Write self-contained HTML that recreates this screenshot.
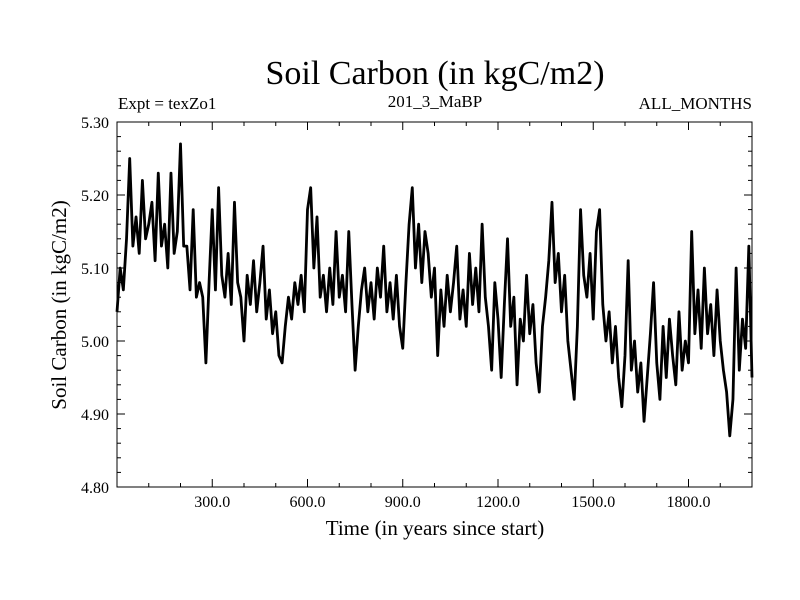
<!DOCTYPE html>
<html><head><meta charset="utf-8"><style>
body{margin:0;background:#fff}
svg{display:block;font-family:"Liberation Serif",serif}
</style></head><body>
<svg id="chart" width="800" height="600" viewBox="0 0 800 600">
<rect width="800" height="600" fill="#fff"/>
<text x="435" y="84" font-size="34" text-anchor="middle">Soil Carbon (in kgC/m2)</text>
<text x="118" y="109" font-size="17">Expt = texZo1</text>
<text x="435" y="107" font-size="17" text-anchor="middle">201_3_MaBP</text>
<text x="752" y="109" font-size="17" text-anchor="end">ALL_MONTHS</text>
<text x="435" y="535" font-size="21" text-anchor="middle">Time (in years since start)</text>
<text transform="translate(66,305) rotate(-90)" font-size="21" text-anchor="middle">Soil Carbon (in kgC/m2)</text>
<g id="axes"></g>
<path id="series" fill="none" stroke="#000" stroke-width="2.8" stroke-linejoin="round"/>
<rect x="117" y="122" width="635" height="365" fill="none" stroke="#000" stroke-width="1"/>
</svg>
<script>
const years = [];
for (let i = 0; i <= 200; i++) years.push(i * 10);
const carbon = [5.04,5.10,5.07,5.14,5.25,5.13,5.17,5.12,5.22,5.14,5.16,5.19,5.11,5.23,5.13,5.16,5.10,5.23,5.12,5.15,5.27,5.13,5.13,5.07,5.18,5.06,5.08,
5.06,4.97,5.08,5.18,5.07,5.21,5.09,5.06,5.12,5.05,5.19,5.08,5.06,5.00,5.09,
5.05,5.11,5.04,5.08,5.13,5.03,5.07,5.01,5.04,4.98,4.97,
5.02,5.06,5.03,5.08,5.05,5.09,5.04,5.18,
5.21,5.10,5.17,5.06,5.09,5.04,5.10,5.05,5.15,5.06,5.09,5.04,5.15,5.05,4.96,5.02,
5.07,5.10,5.04,5.08,5.03,5.10,5.06,5.13,5.04,5.08,5.03,5.09,5.02,
4.99,5.08,5.16,5.21,5.10,5.16,5.08,5.15,5.12,5.06,
5.10,4.98,5.07,5.02,5.09,5.04,5.08,5.13,5.03,5.07,5.02,5.12,5.05,5.10,5.04,5.16,5.06,
5.02,4.96,5.08,5.03,4.95,5.05,5.14,5.02,
5.06,4.94,5.03,5.00,5.09,5.01,5.05,4.97,4.93,5.02,5.06,5.11,5.19,5.08,5.12,5.04,5.09,5.00,4.96,4.92,5.02,5.18,5.09,5.06,5.12,5.03,5.15,5.18,5.05,
5.00,5.04,4.97,5.02,4.95,4.91,4.98,5.11,4.96,5.00,4.93,4.97,4.89,4.95,5.01,5.08,4.97,4.92,5.02,4.95,5.03,4.98,4.94,5.04,4.96,5.00,4.97,5.15,5.01,5.07,4.99,5.10,5.01,5.05,4.98,5.07,5.00,4.96,4.93,4.87,4.92,5.10,4.96,5.03,4.99,5.13,4.95];
const xTickLabels = ["300.0","600.0","900.0","1200.0","1500.0","1800.0"];
const xTickValues = [300,600,900,1200,1500,1800];
const yTickLabels = ["4.80","4.90","5.00","5.10","5.20","5.30"];
const yTickValues = [4.8,4.9,5.0,5.1,5.2,5.3];

const X0=117,X1=752,Y0=487,Y1=122;
const xs = v => X0 + (v-0)/(2000-0)*(X1-X0);
const ys = v => Y0 - (v-4.8)/(5.3-4.8)*(Y0-Y1);
const NS="http://www.w3.org/2000/svg";
const axes=document.getElementById('axes');
function line(x1,y1,x2,y2,name){
  const l=document.createElementNS(NS,'line');
  l.setAttribute('x1',x1);l.setAttribute('y1',y1);l.setAttribute('x2',x2);l.setAttribute('y2',y2);
  l.setAttribute('stroke','#000');l.setAttribute('stroke-width','1');
  
  
  axes.appendChild(l);
}
function text(x,y,s,anchor,name){
  const t=document.createElementNS(NS,'text');
  t.setAttribute('x',x);t.setAttribute('y',y);t.setAttribute('font-size','16');t.setAttribute('text-anchor',anchor);
  t.textContent=s;
  
  
  axes.appendChild(t);
}
for(let yr=100;yr<2000;yr+=100){
  const x=xs(yr), major=yr%300===0, L=major?8:4;
  line(x,Y0,x,Y0-L,'x-tick');
  line(x,Y1,x,Y1+L,'x-tick-top');
}
for(let k=1;k<25;k++){
  const v=4.8+k*0.02, y=ys(v), major=k%5===0, L=major?8:4;
  line(X0,y,X0+L,y,'y-tick');
  line(X1,y,X1-L,y,'y-tick-right');
}
xTickValues.forEach((v,i)=>text(xs(v),507,xTickLabels[i],'middle','x-tick-label'));
yTickValues.forEach((v,i)=>text(109,ys(v)+6,yTickLabels[i],'end','y-tick-label'));
let d='';
years.forEach((yr,i)=>{d+=(i?'L':'M')+xs(yr).toFixed(2)+','+ys(carbon[i]).toFixed(2);});
document.getElementById('series').setAttribute('d',d);
</script>
</body></html>
